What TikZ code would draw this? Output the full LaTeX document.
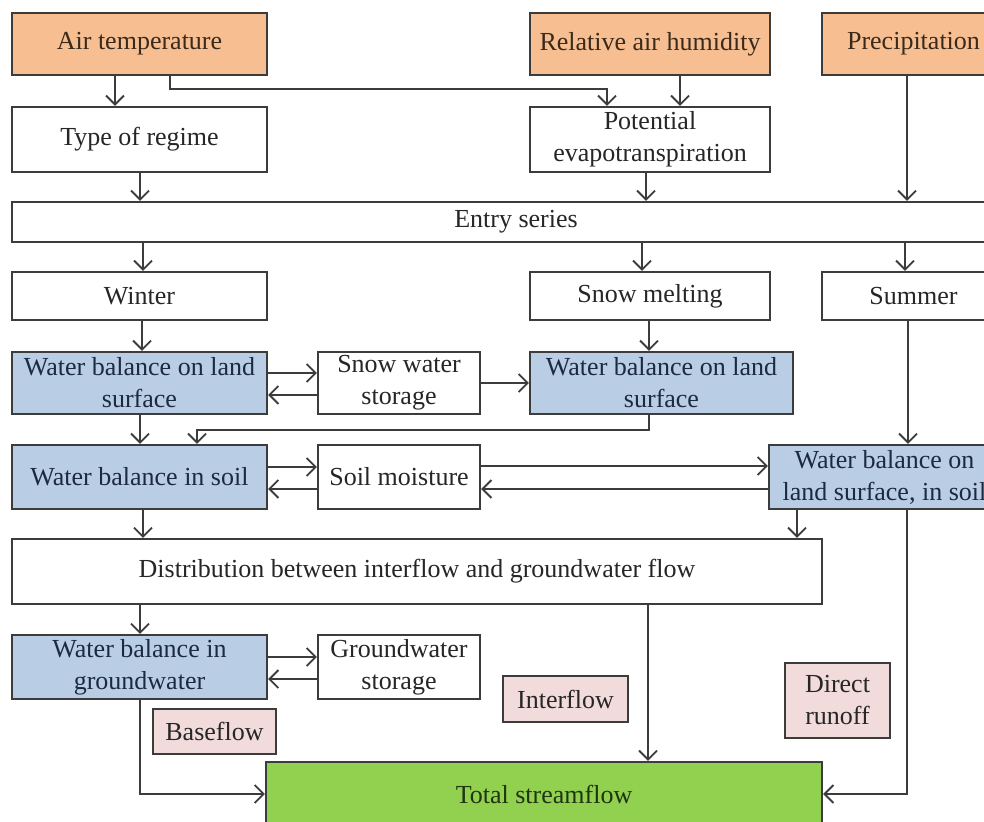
\documentclass[tikz,border=0pt]{standalone}
\usepackage{fontspec}
\setmainfont{Liberation Serif}
\usetikzlibrary{arrows.meta}
\definecolor{linegray}{HTML}{3C3C3C}
\definecolor{inputfill}{HTML}{F7BF91}
\definecolor{inputtext}{HTML}{3A2A1C}
\definecolor{balfill}{HTML}{B9CDE5}
\definecolor{baltext}{HTML}{1C2A40}
\definecolor{flowfill}{HTML}{F2DCDB}
\definecolor{sumfill}{HTML}{92D050}
\definecolor{sumtext}{HTML}{1E3510}
\tikzset{
    plainbox/.style={draw=linegray, line width=1.2pt, fill=white, inner sep=1pt,
        align=center, text=black!85, font=\fontsize{13}{16}\selectfont},
    inbox/.style={plainbox, fill=inputfill, text=inputtext},
    balbox/.style={plainbox, fill=balfill, text=baltext},
    flowbox/.style={plainbox, fill=flowfill},
    sumbox/.style={plainbox, fill=sumfill, text=sumtext},
    flow/.style={draw=linegray, line width=0.9pt, -{Straight Barb[length=4.5pt,width=9pt]}}
}
\begin{document}
\begin{tikzpicture}[x=0.5pt,y=-0.5pt]
                \useasboundingbox (0,0) rectangle (984,822);
                \clip (0,0) rectangle (984,822);
                % inputs
                \node[inbox, minimum width=127.5pt, minimum height=31pt] (airT) at (139.5,44) {Air temperature};
                \node[inbox, minimum width=120pt, minimum height=31pt] (humid) at (650,44) {Relative air humidity};
                \node[inbox, minimum width=91.5pt, minimum height=31pt] (precip) at (913.5,44) {Precipitation};
                \node[plainbox, minimum width=127.5pt, minimum height=32.5pt] (regime) at (139.5,139.5) {Type of regime};
                \node[plainbox, minimum width=120pt, minimum height=32.5pt] (pet) at (650,139.5) {Potential\\evapotranspiration};
                \node[plainbox, minimum width=504pt, minimum height=20pt] (entry) at (516,222) {Entry series};
                % seasons
                \node[plainbox, minimum width=127.5pt, minimum height=24pt] (winter) at (139.5,296) {Winter};
                \node[plainbox, minimum width=120pt, minimum height=24pt] (melt) at (650,296) {Snow melting};
                \node[plainbox, minimum width=91.5pt, minimum height=24pt] (summer) at (913.5,296) {Summer};
                % balances
                \node[balbox, minimum width=127.5pt, minimum height=31pt] (surfW) at (139.5,383) {Water balance on land\\surface};
                \node[plainbox, minimum width=81pt, minimum height=31pt] (snowst) at (399,383) {Snow water\\storage};
                \node[balbox, minimum width=131.5pt, minimum height=31pt] (surfM) at (661.5,383) {Water balance on land\\surface};
                \node[balbox, minimum width=127.5pt, minimum height=32pt] (soilW) at (139.5,477) {Water balance in soil};
                \node[plainbox, minimum width=81pt, minimum height=32pt] (moist) at (399,477) {Soil moisture};
                \node[balbox, minimum width=115.5pt, minimum height=32pt] (surfS) at (884.5,477) {Water balance on\\land surface, in soil};
                \node[plainbox, minimum width=405pt, minimum height=32.5pt] (distr) at (417,571.5) {Distribution between interflow and groundwater flow};
                \node[balbox, minimum width=127.5pt, minimum height=32pt] (ground) at (139.5,667) {Water balance in\\groundwater};
                \node[plainbox, minimum width=81pt, minimum height=32pt] (gwst) at (399,667) {Groundwater\\storage};
                % outflows
                \node[flowbox, minimum width=61.5pt, minimum height=22.5pt] (base) at (214.5,731.5) {Baseflow};
                \node[flowbox, minimum width=62.5pt, minimum height=23pt] (inter) at (565.5,699) {Interflow};
                \node[flowbox, minimum width=52.5pt, minimum height=37.5pt] (direct) at (837.5,700.5) {Direct\\runoff};
                \node[sumbox, minimum width=278pt, minimum height=32pt] (total) at (544,794) {Total streamflow};
                % connectors
                \coordinate (petin) at (607,89);
                \draw[flow] (airT.south -| 115,0) -- (regime.north -| 115,0);
                \draw[flow] (airT.south -| 170,0) |- (petin) -- (pet.north -| petin);
                \draw[flow] (humid.south -| 680,0) -- (pet.north -| 680,0);
                \draw[flow] (regime.south -| 140,0) -- (entry.north -| 140,0);
                \draw[flow] (pet.south -| 646,0) -- (entry.north -| 646,0);
                \draw[flow] (precip.south -| 907,0) -- (entry.north -| 907,0);
                \draw[flow] (entry.south -| 143,0) -- (winter.north -| 143,0);
                \draw[flow] (entry.south -| 642,0) -- (melt.north -| 642,0);
                \draw[flow] (entry.south -| 905,0) -- (summer.north -| 905,0);
                \draw[flow] (winter.south -| 142,0) -- (surfW.north -| 142,0);
                \draw[flow] (melt.south -| 649,0) -- (surfM.north -| 649,0);
                \draw[flow] (summer.south -| 908,0) -- (surfS.north -| 908,0);
                \foreach \a/\b in {surfW/snowst, soilW/moist, ground/gwst}{
                    \draw[flow] ([yshift=5pt]\a.east) -- ([yshift=5pt]\b.west);
                    \draw[flow] ([yshift=-6pt]\b.west) -- ([yshift=-6pt]\a.east);
                }
                \draw[flow] (snowst) -- (surfM);
                \coordinate (soilin) at (197,430);
                \draw[flow] (surfM.south -| 649,0) |- (soilin) -- (soilW.north -| soilin);
                \draw[flow] (surfW.south -| 140,0) -- (soilW.north -| 140,0);
                \draw[flow] ([yshift=5.5pt]moist.east) -- ([yshift=5.5pt]surfS.west);
                \draw[flow] ([yshift=-6pt]surfS.west) -- ([yshift=-6pt]moist.east);
                \draw[flow] (soilW.south -| 143,0) -- (distr.north -| 143,0);
                \draw[flow] (surfS.south -| 797,0) -- (distr.north -| 797,0);
                \draw[flow] (distr.south -| 140,0) -- (ground.north -| 140,0);
                \draw[flow] (distr.south -| 648,0) -- (total.north -| 648,0);
                \draw[flow] (ground.south -| 140,0) |- (total.west);
                \draw[flow] (surfS.south -| 907,0) |- (total.east);
            \end{tikzpicture}
\end{document}
